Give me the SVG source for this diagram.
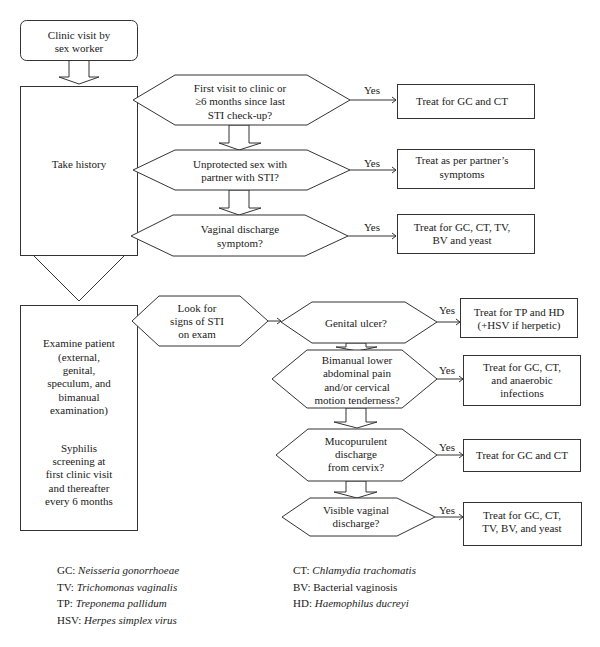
<svg xmlns="http://www.w3.org/2000/svg" width="600" height="647" viewBox="0 0 600 647">
<defs>
<style>
.s{fill:#fff;stroke:#333;stroke-width:1}
.t{font-family:"Liberation Serif","Times New Roman",serif;font-size:11px;fill:#1a1a1a;text-anchor:middle}
.l{font-family:"Liberation Serif","Times New Roman",serif;font-size:11px;fill:#1a1a1a}
.c{fill:none;stroke:#333;stroke-width:1}
.i{font-style:italic}
</style>
<marker id="ah" markerWidth="8" markerHeight="8" refX="6" refY="4" orient="auto" markerUnits="userSpaceOnUse">
<path d="M2,1 L6,4 L2,7" fill="none" stroke="#333" stroke-width="1"/>
</marker>
</defs>
<rect width="600" height="647" fill="#fff"/>

<g id="connectors">
<polygon class="s" points="69,60 89,60 89,77 99,77 79,84 59,77 69,77"/>
<polygon class="s" points="229,125 249,125 249,143 261,143 239,150 219,143 229,143"/>
<polygon class="s" points="229,190 249,190 249,208 261,208 239,215 219,208 229,208"/>
<polygon class="s" points="33,255 125,255 79,301"/>
<polygon class="s" points="346,343 366,343 366,347 377,347 357,351 336,347 346,347"/>
<polygon class="s" points="346,408 366,408 366,422 377,422 357,428 334,422 346,422"/>
<polygon class="s" points="346,481 366,481 366,492 377,492 357,498 334,492 346,492"/>
<line class="c" x1="350" y1="100" x2="396" y2="100" marker-end="url(#ah)"/>
<line class="c" x1="350" y1="170" x2="396" y2="170" marker-end="url(#ah)"/>
<line class="c" x1="348" y1="236" x2="396" y2="236" marker-end="url(#ah)"/>
<line class="c" x1="268" y1="321" x2="281" y2="321" marker-end="url(#ah)"/>
<line class="c" x1="437" y1="322" x2="460" y2="322" marker-end="url(#ah)"/>
<line class="c" x1="437" y1="379" x2="463" y2="379" marker-end="url(#ah)"/>
<line class="c" x1="437" y1="455" x2="463" y2="455" marker-end="url(#ah)"/>
<line class="c" x1="435" y1="517" x2="463" y2="517" marker-end="url(#ah)"/>
<text class="t" x="372" y="94">Yes</text>
<text class="t" x="372" y="167">Yes</text>
<text class="t" x="372" y="231">Yes</text>
<text class="t" x="447" y="314">Yes</text>
<text class="t" x="447" y="374">Yes</text>
<text class="t" x="447" y="451">Yes</text>
<text class="t" x="447" y="514">Yes</text>
</g>

<g id="clinic">
<rect class="s" x="20.5" y="20.5" width="117" height="40" rx="6"/>
<text class="t" x="79" y="39">Clinic visit by</text>
<text class="t" x="79" y="52">sex worker</text>
</g>

<g id="history">
<rect class="s" x="20.5" y="86.5" width="117" height="169"/>
<text class="t" x="79" y="168">Take history</text>
</g>

<g id="q1">
<polygon class="s" points="133,100 175,75 307,75 350,100 307,125 175,125"/>
<text class="t" x="240" y="92">First visit to clinic or</text>
<text class="t" x="240" y="105">≥6 months since last</text>
<text class="t" x="240" y="119">STI check-up?</text>
</g>
<g id="q2">
<polygon class="s" points="133,170 175,150 307,150 350,170 307,190 175,190"/>
<text class="t" x="240" y="168">Unprotected sex with</text>
<text class="t" x="240" y="181">partner with STI?</text>
</g>
<g id="q3">
<polygon class="s" points="131,236 173,215 305,215 348,236 305,256 173,256"/>
<text class="t" x="240" y="233">Vaginal discharge</text>
<text class="t" x="240" y="247">symptom?</text>
</g>

<g id="r1">
<rect class="s" x="397.5" y="84.5" width="137" height="34"/>
<text class="t" x="462" y="105">Treat for GC and CT</text>
</g>
<g id="r2">
<rect class="s" x="397.5" y="149.5" width="137" height="39"/>
<text class="t" x="462" y="164">Treat as per partner’s</text>
<text class="t" x="462" y="178">symptoms</text>
</g>
<g id="r3">
<rect class="s" x="397.5" y="214.5" width="137" height="39"/>
<text class="t" x="462" y="231">Treat for GC, CT, TV,</text>
<text class="t" x="462" y="244">BV and yeast</text>
</g>

<g id="examine">
<rect class="s" x="20.5" y="305.5" width="117" height="225"/>
<text class="t" x="79" y="347">Examine patient</text>
<text class="t" x="79" y="361">(external,</text>
<text class="t" x="79" y="374">genital,</text>
<text class="t" x="79" y="387">speculum, and</text>
<text class="t" x="79" y="401">bimanual</text>
<text class="t" x="79" y="414">examination)</text>
<text class="t" x="79" y="452">Syphilis</text>
<text class="t" x="79" y="465">screening at</text>
<text class="t" x="79" y="478">first clinic visit</text>
<text class="t" x="79" y="492">and thereafter</text>
<text class="t" x="79" y="505">every 6 months</text>
</g>

<g id="look">
<polygon class="s" points="132,321 159,296 240,296 268,321 240,346 159,346"/>
<text class="t" x="197" y="312">Look for</text>
<text class="t" x="197" y="325">signs of STI</text>
<text class="t" x="197" y="338">on exam</text>
</g>

<g id="e1">
<polygon class="s" points="281,322 312,302 405,302 437,322 405,343 312,343"/>
<text class="t" x="356" y="327">Genital ulcer?</text>
</g>
<g id="e2">
<polygon class="s" points="272,379 307,350 402,350 437,379 402,408 307,408"/>
<text class="t" x="357" y="364">Bimanual lower</text>
<text class="t" x="357" y="377">abdominal pain</text>
<text class="t" x="357" y="391">and/or cervical</text>
<text class="t" x="357" y="404">motion tenderness?</text>
</g>
<g id="e3">
<polygon class="s" points="276,455 308,429 402,429 437,455 402,481 308,481"/>
<text class="t" x="356" y="445">Mucopurulent</text>
<text class="t" x="356" y="458">discharge</text>
<text class="t" x="356" y="471">from cervix?</text>
</g>
<g id="e4">
<polygon class="s" points="282,517 310,498 397,498 435,517 397,536 310,536"/>
<text class="t" x="356" y="514">Visible vaginal</text>
<text class="t" x="356" y="527">discharge?</text>
</g>

<g id="t1">
<rect class="s" x="460.5" y="298.5" width="117" height="39"/>
<text class="t" x="519" y="316">Treat for TP and HD</text>
<text class="t" x="519" y="329">(+HSV if herpetic)</text>
</g>
<g id="t2">
<rect class="s" x="463.5" y="355.5" width="117" height="50"/>
<text class="t" x="522" y="371">Treat for GC, CT,</text>
<text class="t" x="522" y="384">and anaerobic</text>
<text class="t" x="522" y="397">infections</text>
</g>
<g id="t3">
<rect class="s" x="463.5" y="439.5" width="117" height="32"/>
<text class="t" x="522" y="459">Treat for GC and CT</text>
</g>
<g id="t4">
<rect class="s" x="463.5" y="502.5" width="118" height="43"/>
<text class="t" x="522" y="519">Treat for GC, CT,</text>
<text class="t" x="522" y="532">TV, BV, and yeast</text>
</g>

<g id="legend">
<text class="l" x="57" y="574">GC: <tspan class="i">Neisseria gonorrhoeae</tspan></text>
<text class="l" x="57" y="591">TV: <tspan class="i">Trichomonas vaginalis</tspan></text>
<text class="l" x="57" y="607">TP: <tspan class="i">Treponema pallidum</tspan></text>
<text class="l" x="57" y="624">HSV: <tspan class="i">Herpes simplex virus</tspan></text>
<text class="l" x="293" y="574">CT: <tspan class="i">Chlamydia trachomatis</tspan></text>
<text class="l" x="293" y="591">BV: Bacterial vaginosis</text>
<text class="l" x="293" y="607">HD: <tspan class="i">Haemophilus ducreyi</tspan></text>
</g>
</svg>
